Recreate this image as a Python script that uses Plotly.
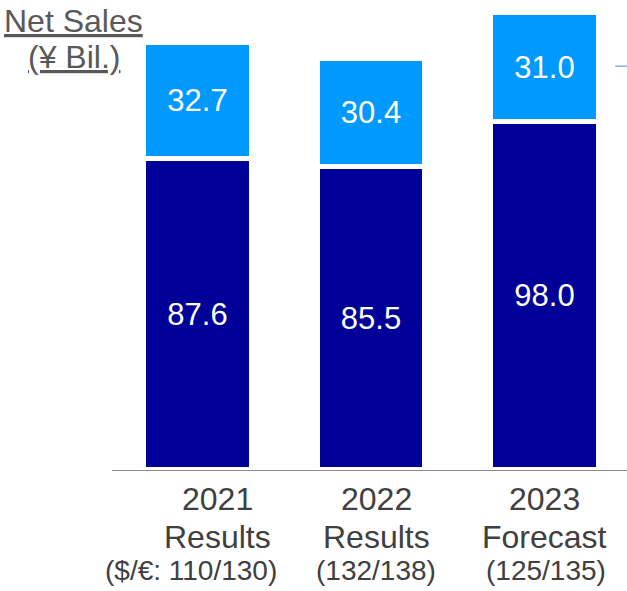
import plotly.graph_objects as go

# valores (¥ bilhoes)
anos = ['2021', '2022', '2023']
tipos = ['Results', 'Results', 'Forecast']
cambio = ['($/€: 110/130)', '(132/138)', '(125/135)']
base = [87.6, 85.5, 98.0]
topo = [32.7, 30.4, 31.0]

azul_escuro = '#000099'
azul_claro = '#0099FF'
cinza_texto = '#404040'
posicoes = list(range(len(anos)))

fig = go.Figure()
# segmento inferior
fig.add_trace(go.Bar(x = posicoes,
                     y = base,
                     width = 0.62,
                     marker_color = azul_escuro,
                     marker_line = dict(color = 'white', width = 5),
                     texttemplate = '%{y:.1f}',
                     textposition = 'inside',
                     insidetextanchor = 'middle',
                     textfont = dict(color = 'white', size = 31),
                     showlegend = False))
# segmento superior
fig.add_trace(go.Bar(x = posicoes,
                     y = topo,
                     width = 0.62,
                     marker_color = azul_claro,
                     marker_line = dict(color = 'white', width = 5),
                     texttemplate = '%{y:.1f}',
                     textposition = 'inside',
                     insidetextanchor = 'middle',
                     textfont = dict(color = 'white', size = 31),
                     showlegend = False))

# rotulos das categorias, uma linha por anotacao (deslocamentos como no original)
desloc_principal = [20, 5, 0]
desloc_cambio = [-7, 5, 1]
for p, a, t, c, d1, d2 in zip(posicoes, anos, tipos, cambio, desloc_principal, desloc_cambio):
    fig.add_annotation(x = p, y = 0, xref = 'x', yref = 'y',
                       text = a, showarrow = False,
                       yanchor = 'top', yshift = -9, xshift = d1,
                       font = dict(size = 32, color = cinza_texto))
    fig.add_annotation(x = p, y = 0, xref = 'x', yref = 'y',
                       text = t, showarrow = False,
                       yanchor = 'top', yshift = -47, xshift = d1,
                       font = dict(size = 32, color = cinza_texto))
    fig.add_annotation(x = p, y = 0, xref = 'x', yref = 'y',
                       text = c, showarrow = False,
                       yanchor = 'top', yshift = -83, xshift = d2,
                       font = dict(size = 28, color = cinza_texto))

# titulo sublinhado
fig.add_annotation(x = -0.0738, y = 1.017, xref = 'paper', yref = 'paper',
                   xanchor = 'center', yanchor = 'top',
                   text = 'Net Sales', showarrow = False,
                   font = dict(size = 32, color = '#595959', lineposition = 'under'))
fig.add_annotation(x = -0.0738, y = 0.939, xref = 'paper', yref = 'paper',
                   xanchor = 'center', yanchor = 'top',
                   text = '(¥ Bil.)', showarrow = False,
                   font = dict(size = 32, color = '#595959', lineposition = 'under'))

# pequeno traco na borda direita
fig.add_shape(type = 'line', xref = 'paper', yref = 'paper',
              x0 = 0.977, x1 = 1.0, y0 = 0.876, y1 = 0.876,
              line = dict(color = '#8DB3E2', width = 1.5))

fig.update_layout(barmode = 'stack',
                  width = 627, height = 591,
                  margin = dict(l = 112, r = 0, t = 9, b = 121),
                  paper_bgcolor = 'white',
                  plot_bgcolor = 'white',
                  font = dict(family = 'Liberation Sans, Arial, sans-serif'),
                  bargap = 0)

fig.update_xaxes(range = [-0.4957, 2.473],
                 showticklabels = False,
                 showline = True, linecolor = '#8C8C8C', linewidth = 1.2,
                 showgrid = False, zeroline = False, ticks = '')
fig.update_yaxes(range = [0, 130], visible = False, showgrid = False)

# tira a margem padrao do body para a figura ocupar a janela toda
fig.write_html("out.html",
               config = {'displayModeBar': False},
               post_script = "document.body.style.margin = '0px';")
